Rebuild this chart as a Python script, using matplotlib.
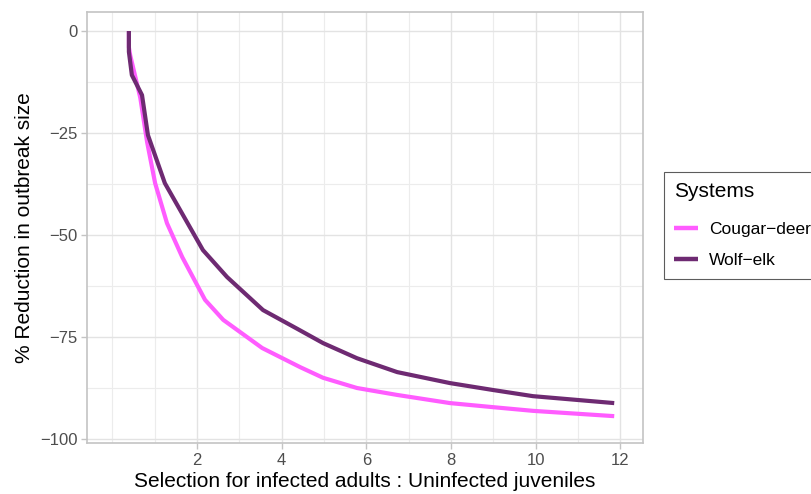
import matplotlib
matplotlib.use("Agg")
import matplotlib.pyplot as plt
from matplotlib.ticker import FixedLocator

plt.rcParams['font.family'] = ['Liberation Sans', 'DejaVu Sans']

# Data
wolf_x = [0.39, 0.39, 0.46, 0.70, 0.84, 1.24, 2.14, 2.71, 3.56, 4.37, 4.98, 5.78, 6.73, 7.98, 9.00, 9.94, 11.86]
wolf_y = [0.0, -5.1, -10.8, -15.7, -25.5, -37.3, -53.7, -60.3, -68.4, -73.0, -76.5, -80.2, -83.6, -86.3, -88.0, -89.5, -91.2]

cougar_x = [0.39, 0.39, 0.42, 0.66, 0.82, 1.01, 1.29, 1.65, 2.19, 2.62, 3.54, 4.44, 4.98, 5.78, 6.73, 7.98, 9.00, 9.94, 11.86]
cougar_y = [0.0, -4.0, -5.9, -16.4, -27.2, -37.3, -47.1, -55.4, -65.9, -70.8, -77.7, -82.4, -85.0, -87.5, -89.2, -91.2, -92.2, -93.1, -94.4]

x_ticks = [2, 4, 6, 8, 10, 12]
y_ticks = [0, -25, -50, -75, -100]
series_names = ["Cougar\u2212deer", "Wolf\u2212elk"]
colors = ["#ff5cff", "#6e2a72"]

fig = plt.figure(figsize=(8.11, 4.94), dpi=100)
ax = fig.add_axes([87/811, 1-443/494, (643-87)/811, (443-12)/494])

ax.plot(cougar_x, cougar_y, color=colors[0], lw=3.0, label=series_names[0], solid_capstyle='butt', zorder=3)
ax.plot(wolf_x, wolf_y, color=colors[1], lw=3.0, label=series_names[1], solid_capstyle='butt', zorder=3)

ax.set_xlim(-0.60, 12.54)
ax.set_ylim(-100.98, 4.66)

ax.xaxis.set_major_locator(FixedLocator(x_ticks))
ax.yaxis.set_major_locator(FixedLocator(y_ticks))
ax.xaxis.set_minor_locator(FixedLocator([0, 1, 3, 5, 7, 9, 11]))
ax.yaxis.set_minor_locator(FixedLocator([-12.5, -37.5, -62.5, -87.5]))

ax.grid(which='major', color='#e3e3e3', lw=1.0, zorder=0)
ax.grid(which='minor', color='#ececec', lw=0.8, zorder=0)
ax.set_axisbelow(True)

for s in ax.spines.values():
    s.set_color('#c4c4c4')
    s.set_linewidth(1.2)

ax.tick_params(which='major', length=4, width=1.0, color='#c4c4c4', labelcolor='#4d4d4d', labelsize=12, pad=3)
ax.tick_params(which='minor', length=0)

ax.set_xlabel("Selection for infected adults : Uninfected juveniles", fontsize=15, color='black', labelpad=3)
ax.set_ylabel("% Reduction in outbreak size", fontsize=15, color='black', labelpad=4)

leg = ax.legend(title="Systems", loc='upper left', bbox_to_anchor=(664/811, 1-172/494),
                bbox_transform=fig.transFigure, frameon=True, fancybox=False,
                fontsize=12.5, title_fontsize=15, handlelength=1.35, handletextpad=0.65,
                borderpad=0.6, labelspacing=0.9, borderaxespad=0)
leg._legend_box.align = "left"
leg._legend_box.sep = 15
leg.get_frame().set_edgecolor('#333333')
leg.get_frame().set_linewidth(0.8)
for l in leg.get_lines():
    l.set_linewidth(3.2)

fig.savefig("out.png", dpi=100)
